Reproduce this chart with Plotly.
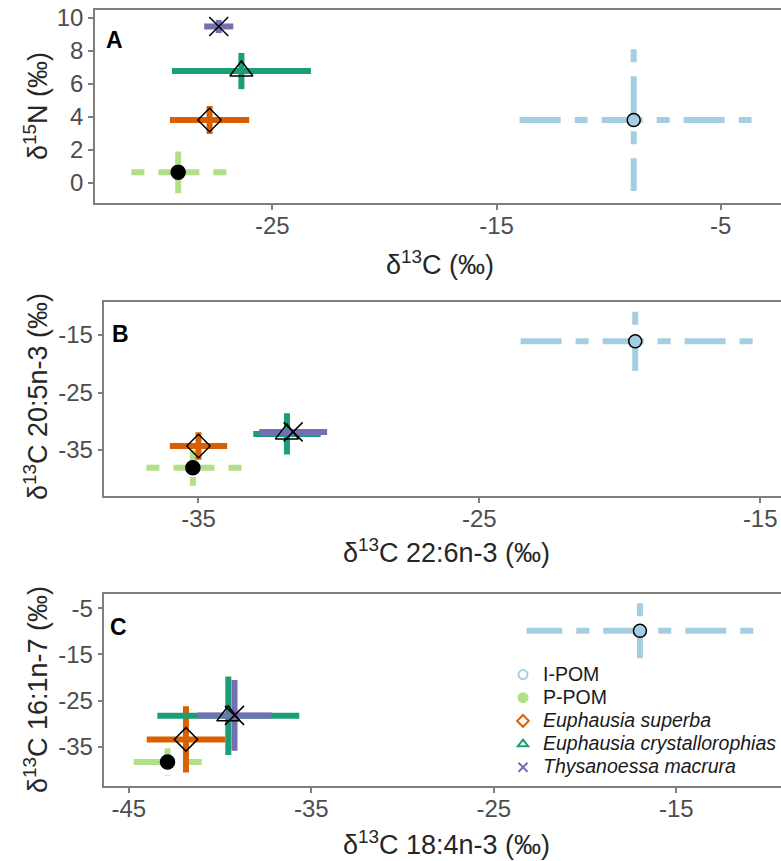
import plotly.graph_objects as go

W, H = 781, 861

groups = ["I-POM", "P-POM", "Euphausia superba", "Euphausia crystallorophias", "Thysanoessa macrura"]
legend_names = ["I-POM", "P-POM", "<i>Euphausia superba</i>", "<i>Euphausia crystallorophias</i>", "<i>Thysanoessa macrura</i>"]
colors = ["#a6cee3", "#b2df8a", "#d95f02", "#1b9e77", "#7570b3"]
dashes = ["13px,14px,41px,14px", "13px,14px,41px,14px", "solid", "solid", "solid"]

# Panel A: bulk d13C (x) vs d15N (y)
a_x_mean = [-8.88, -29.2, -27.8, -26.38, -27.39]
a_x_sd = [5.26, 2.15, 1.77, 3.1, 0.65]
a_y_mean = [3.8, 0.63, 3.81, 6.78, 9.49]
a_y_sd = [4.3, 1.27, 0.85, 1.1, 0.4]

# Panel B: d13C 22:6n-3 (x) vs d13C 20:5n-3 (y)
b_x_mean = [-19.45, -35.2, -35.0, -31.85, -31.63]
b_x_sd = [4.18, 1.73, 1.02, 1.2, 1.21]
b_y_mean = [-16.1, -38.1, -34.3, -32.2, -31.85]
b_y_sd = [5.15, 3.1, 2.4, 3.6, 0.5]

# Panel C: d13C 18:4n-3 (x) vs d13C 16:1n-7 (y)
c_x_mean = [-16.99, -42.88, -41.87, -39.55, -39.21]
c_x_sd = [6.21, 1.87, 2.15, 3.89, 2.04]
c_y_mean = [-9.88, -38.3, -33.4, -28.3, -28.2]
c_y_sd = [5.96, 2.97, 7.2, 8.5, 7.66]

a_xticks = [-25, -15, -5]
a_yticks = [0, 2, 4, 6, 8, 10]
b_xticks = [-35, -25, -15]
b_yticks = [-35, -25, -15]
c_xticks = [-45, -35, -25, -15]
c_yticks = [-35, -25, -15, -5]

sym = ["circle", "circle", "diamond-open", "triangle-up-open", "x-thin-open"]
msize = [13, 14, 18, 20, 19]
mfill = ["#a6cee3", "black", "black", "black", "black"]
leg_sym = ["circle-open", "circle", "diamond-open", "triangle-up-open", "x-thin-open"]

FONT = "Liberation Sans, Arial, sans-serif"
GRAY = "#7f7f7f"

panels = [
    ("x", "y", a_x_mean, a_x_sd, a_y_mean, a_y_sd),
    ("x2", "y2", b_x_mean, b_x_sd, b_y_mean, b_y_sd),
    ("x3", "y3", c_x_mean, c_x_sd, c_y_mean, c_y_sd),
]

fig = go.Figure()

for xa, ya, xm, xs, ym, ys in panels:
    for i in range(len(groups)):
        # horizontal bar (drawn from max to min)
        fig.add_trace(go.Scatter(
            x=[xm[i] + xs[i], xm[i] - xs[i]], y=[ym[i], ym[i]],
            mode="lines", line=dict(color=colors[i], width=6, dash=dashes[i]),
            xaxis=xa, yaxis=ya, showlegend=False, hoverinfo="skip"))
        # vertical bar (drawn from top to bottom)
        fig.add_trace(go.Scatter(
            x=[xm[i], xm[i]], y=[ym[i] + ys[i], ym[i] - ys[i]],
            mode="lines", line=dict(color=colors[i], width=6, dash=dashes[i]),
            xaxis=xa, yaxis=ya, showlegend=False, hoverinfo="skip"))
    for i in range(len(groups)):
        fig.add_trace(go.Scatter(
            x=[xm[i]], y=[ym[i]], mode="markers",
            marker=dict(symbol=sym[i], size=msize[i], color=mfill[i],
                        line=dict(color="black", width=1.5)),
            xaxis=xa, yaxis=ya, showlegend=False, hoverinfo="skip"))

# legend entries (text enlarged inside the entry; entry height follows legend font)
for i in range(len(groups)):
    fig.add_trace(go.Scatter(
        x=[None], y=[None], mode="markers",
        name='<span style="font-size:19.5px">%s</span>' % legend_names[i],
        marker=dict(symbol=leg_sym[i], size=9, color=colors[i],
                    line=dict(color=colors[i], width=2)),
        xaxis="x3", yaxis="y3", showlegend=True))

def px_x(p):
    return p / W

def px_y(p):
    return 1 - p / H

def xdom(left):
    return [px_x(left), 1.0]

def ydom(top, bottom):
    return [px_y(bottom), px_y(top)]

def ticktext(vals):
    return ["%g" % v for v in vals]

axis_common = dict(
    showline=True, linecolor=GRAY, linewidth=1.5,
    ticks="outside", ticklen=5, tickwidth=1.5, tickcolor=GRAY,
    showgrid=False, zeroline=False, ticklabeloverflow="allow", automargin=False,
    tickfont=dict(family=FONT, size=24, color="#4d4d4d"),
)
xaxis_extra = dict(mirror=True, ticklabelstandoff=-5)

fig.update_layout(
    width=W, height=H,
    margin=dict(l=0, r=0, t=0, b=0, autoexpand=False),
    paper_bgcolor="white", plot_bgcolor="white",
    showlegend=True,
    legend=dict(x=px_x(503), y=px_y(658), xanchor="left", yanchor="top",
                font=dict(family=FONT, size=15.5, color="#1a1a1a"),
                bgcolor="rgba(0,0,0,0)", tracegroupgap=0, itemwidth=30),
    xaxis=dict(domain=xdom(95), range=[-32.91, -2.31], tickvals=a_xticks,
               ticktext=ticktext(a_xticks), anchor="y", **xaxis_extra, **axis_common),
    yaxis=dict(domain=ydom(10, 203), range=[-1.235, 10.49], tickvals=a_yticks,
               ticktext=ticktext(a_yticks), anchor="x", **axis_common),
    xaxis2=dict(domain=xdom(104.4), range=[-38.35, -14.26], tickvals=b_xticks,
                ticktext=ticktext(b_xticks), anchor="y2", **xaxis_extra, **axis_common),
    yaxis2=dict(domain=ydom(302, 496), range=[-43.0, -9.26], tickvals=b_yticks,
                ticktext=ticktext(b_yticks), anchor="x2", **axis_common),
    xaxis3=dict(domain=xdom(104.4), range=[-46.34, -9.26], tickvals=c_xticks,
                ticktext=ticktext(c_xticks), anchor="y3", **xaxis_extra, **axis_common),
    yaxis3=dict(domain=ydom(594, 786), range=[-43.5, -1.9], tickvals=c_yticks,
                ticktext=ticktext(c_yticks), anchor="x3", **axis_common),
)

def ann(text, x, y, size, angle=0, bold=False, color="#262626"):
    fig.add_annotation(text=("<b>%s</b>" % text) if bold else text,
                       x=px_x(x), y=px_y(y), xref="paper", yref="paper",
                       showarrow=False, textangle=angle,
                       font=dict(family=FONT, size=size, color=color),
                       xanchor="center", yanchor="middle")

# axis titles
ann("δ<sup>13</sup>C (‰)", 440, 263, 27)
ann("δ<sup>13</sup>C 22:6n-3 (‰)", 446, 551, 27)
ann("δ<sup>13</sup>C 18:4n-3 (‰)", 446, 843, 27)
ann("δ<sup>15</sup>N (‰)", 36, 106, 27, angle=-90)
ann("δ<sup>13</sup>C 20:5n-3 (‰)", 36, 397, 27, angle=-90)
ann("δ<sup>13</sup>C 16:1n-7 (‰)", 36, 690, 27, angle=-90)

# panel letters
ann("A", 114, 40, 23, bold=True, color="black")
ann("B", 121, 334, 23, bold=True, color="black")
ann("C", 118, 627, 23, bold=True, color="black")

# remove the default page margin so the figure sits at the window's top-left corner
fig.write_html("out.html", config={"displayModeBar": False},
               post_script="document.body.style.margin='0px';")
